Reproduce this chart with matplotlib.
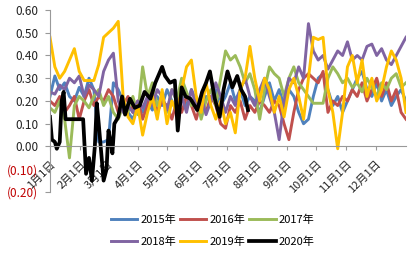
import matplotlib
matplotlib.use("Agg")
import matplotlib.pyplot as plt
import numpy as np
from matplotlib.ticker import FuncFormatter

plt.rcParams['font.family'] = ['Noto Sans CJK SC', 'DejaVu Sans']

# day-of-year sampling for full-year series
days = list(range(0, 366, 5))

s2015 = [0.22, 0.31, 0.25, 0.28, 0.22, 0.20, 0.26, 0.22, 0.30, 0.25,
         0.02, 0.02, 0.03, 0.28, 0.25, 0.20, 0.15, 0.12, 0.18, 0.15,
         0.20, 0.16, 0.22, 0.18, 0.25, 0.20, 0.15, 0.22, 0.18, 0.25,
         0.20, 0.15, 0.22, 0.20, 0.25, 0.18, 0.22, 0.28, 0.20, 0.25,
         0.18, 0.22, 0.20, 0.15, 0.22, 0.28, 0.20, 0.25, 0.18, 0.25,
         0.22, 0.15, 0.10, 0.12, 0.22, 0.30, 0.32, 0.25, 0.18, 0.22,
         0.15, 0.20, 0.25, 0.30, 0.33, 0.25, 0.22, 0.28, 0.20, 0.25,
         0.18, 0.22, 0.25, 0.20]
s2016 = [0.20, 0.18, 0.22, 0.15, 0.18, 0.22, 0.12, 0.20, 0.25, 0.18,
         0.22, 0.20, 0.25, 0.22, 0.15, 0.18, 0.22, 0.15, 0.20, 0.12,
         0.18, 0.25, 0.15, 0.20, 0.18, 0.12, 0.20, 0.15, 0.22, 0.18,
         0.12, 0.20, 0.15, 0.22, 0.18, 0.10, 0.08, 0.18, 0.15, 0.20,
         0.12, 0.18, 0.15, 0.20, 0.18, 0.15, 0.20, 0.18, 0.10, 0.03,
         0.15, 0.25, 0.30, 0.32, 0.30, 0.28, 0.33, 0.15, 0.20, 0.18,
         0.22, 0.20, 0.25, 0.22, 0.28, 0.20, 0.25, 0.30, 0.22, 0.28,
         0.20, 0.25, 0.15, 0.12]
s2017 = [0.17, 0.15, 0.20, 0.12, -0.05, 0.18, 0.22, 0.20, 0.17, 0.22,
         0.25, 0.18, 0.22, 0.15, 0.12, 0.18, 0.15, 0.22, 0.14, 0.35,
         0.22, 0.28, 0.18, 0.22, 0.15, 0.25, 0.20, 0.30, 0.24, 0.18,
         0.22, 0.12, 0.20, 0.25, 0.18, 0.30, 0.42, 0.38, 0.40, 0.35,
         0.28, 0.32, 0.25, 0.12, 0.25, 0.35, 0.32, 0.30, 0.22, 0.30,
         0.35, 0.28, 0.25, 0.22, 0.19, 0.19, 0.19, 0.30, 0.35, 0.32,
         0.28, 0.30, 0.26, 0.28, 0.24, 0.30, 0.26, 0.22, 0.28, 0.25,
         0.30, 0.32, 0.26, 0.28]
s2018 = [0.24, 0.23, 0.27, 0.25, 0.30, 0.28, 0.31, 0.22, 0.27, 0.25,
         0.22, 0.33, 0.38, 0.41, 0.20, 0.15, 0.18, 0.15, 0.20, 0.17,
         0.22, 0.18, 0.25, 0.22, 0.16, 0.25, 0.20, 0.22, 0.15, 0.25,
         0.18, 0.22, 0.14, 0.20, 0.28, 0.22, 0.15, 0.22, 0.18, 0.25,
         0.30, 0.22, 0.18, 0.25, 0.30, 0.22, 0.15, 0.03, 0.20, 0.30,
         0.28, 0.35, 0.30, 0.54, 0.42, 0.38, 0.40, 0.34, 0.38, 0.42,
         0.40, 0.46, 0.38, 0.40, 0.38, 0.44, 0.45, 0.40, 0.43, 0.38,
         0.36, 0.40, 0.44, 0.48]
s2019 = [0.48, 0.35, 0.30, 0.33, 0.38, 0.43, 0.33, 0.29, 0.29, 0.29,
         0.36, 0.48, 0.50, 0.52, 0.55, 0.22, 0.13, 0.10, 0.18, 0.05,
         0.15, 0.22, 0.12, 0.25, 0.10, 0.20, 0.15, 0.25, 0.35, 0.38,
         0.22, 0.15, 0.28, 0.18, 0.12, 0.20, 0.10, 0.15, 0.06, 0.25,
         0.30, 0.44, 0.30, 0.20, 0.30, 0.25, 0.15, 0.22, 0.13, 0.25,
         0.30, 0.22, 0.12, 0.30, 0.48, 0.47, 0.48, 0.25, 0.15, -0.01,
         0.15, 0.35, 0.40, 0.28, 0.38, 0.22, 0.30, 0.20, 0.25, 0.35,
         0.42, 0.38, 0.30, 0.15]

days2020 = [0, 2, 5, 7, 10, 12, 14, 16, 34, 37, 40, 43, 46, 48, 50, 52, 55,
            58, 60, 63, 64, 66, 70, 74, 77, 82, 87, 92, 97, 103, 108, 113,
            115, 118, 123, 128, 131, 135, 139, 144, 151, 156, 160, 164, 169,
            174, 178, 182, 187, 192, 196, 200, 203]
s2020 = [0.13, 0.03, 0.02, -0.01, 0.02, 0.20, 0.24, 0.12, 0.12, -0.12,
         -0.05, -0.15, 0.00, 0.19, 0.10, 0.00, -0.15, -0.10, 0.07, 0.00,
         -0.03, 0.10, 0.13, 0.22, 0.14, 0.21, 0.17, 0.18, 0.24, 0.21,
         0.28, 0.33, 0.35, 0.31, 0.28, 0.29, 0.07, 0.26, 0.22, 0.21,
         0.16, 0.24, 0.28, 0.33, 0.21, 0.13, 0.25, 0.33, 0.26, 0.31,
         0.25, 0.22, 0.16]

month_starts = [0, 31, 59, 90, 120, 151, 181, 212, 243, 273, 304, 334]
month_labels = ['1月1日', '2月1日', '3月1日', '4月1日', '5月1日', '6月1日',
                '7月1日', '8月1日', '9月1日', '10月1日', '11月1日', '12月1日']
y_ticks = [-0.2, -0.1, 0.0, 0.1, 0.2, 0.3, 0.4, 0.5, 0.6]

series = [('2015年', days, s2015, '#4F81BD', 2.1),
          ('2016年', days, s2016, '#C0504D', 2.1),
          ('2017年', days, s2017, '#9BBB59', 2.1),
          ('2018年', days, s2018, '#8064A2', 2.1),
          ('2019年', days, s2019, '#FFC000', 2.1),
          ('2020年', days2020, s2020, '#000000', 2.7)]

fig = plt.figure(figsize=(4.13, 2.56), dpi=100)
ax = fig.add_axes([0.121, 0.25, 0.862, 0.711])

handles = []
for name, x, y, c, lw in series:
    h, = ax.plot(x, y, color=c, lw=lw, label=name, solid_joinstyle='round')
    handles.append(h)

ax.set_xlim(0, 365)
ax.set_ylim(-0.2, 0.6)
ax.set_yticks(y_ticks)

def fmt(v, pos):
    if v < -1e-9:
        return '({:.2f})'.format(-v)
    return '{:.2f}'.format(abs(v))

ax.yaxis.set_major_formatter(FuncFormatter(fmt))

ax.spines['top'].set_visible(False)
ax.spines['right'].set_visible(False)
ax.spines['bottom'].set_position(('data', 0))
ax.spines['bottom'].set_color('#999999')
ax.spines['left'].set_color('#999999')
ax.tick_params(axis='x', direction='out', length=3, color='#999999',
               labelsize=8, pad=6)
ax.tick_params(axis='y', direction='out', length=3.5, color='#999999',
               labelsize=8.5, pad=5)

ax.set_xticks(month_starts)
ax.set_xticklabels(month_labels)
for lab in ax.get_xticklabels():
    lab.set_rotation(45)
    lab.set_horizontalalignment('right')
    lab.set_verticalalignment('top')
    lab.set_rotation_mode('anchor')
    lab.set_color('#222222')

fig.canvas.draw()
for lab, v in zip(ax.get_yticklabels(), y_ticks):
    lab.set_color('#C00000' if v < -1e-9 else '#222222')

order = [0, 3, 1, 4, 2, 5]
fig.legend([handles[i] for i in order], [series[i][0] for i in order],
           loc='center', bbox_to_anchor=(0.515, 0.098), ncol=3,
           frameon=False, fontsize=8, handlelength=2.4, handletextpad=0.3,
           columnspacing=0.3, labelspacing=1.0)

fig.savefig('out.png', dpi=100)
